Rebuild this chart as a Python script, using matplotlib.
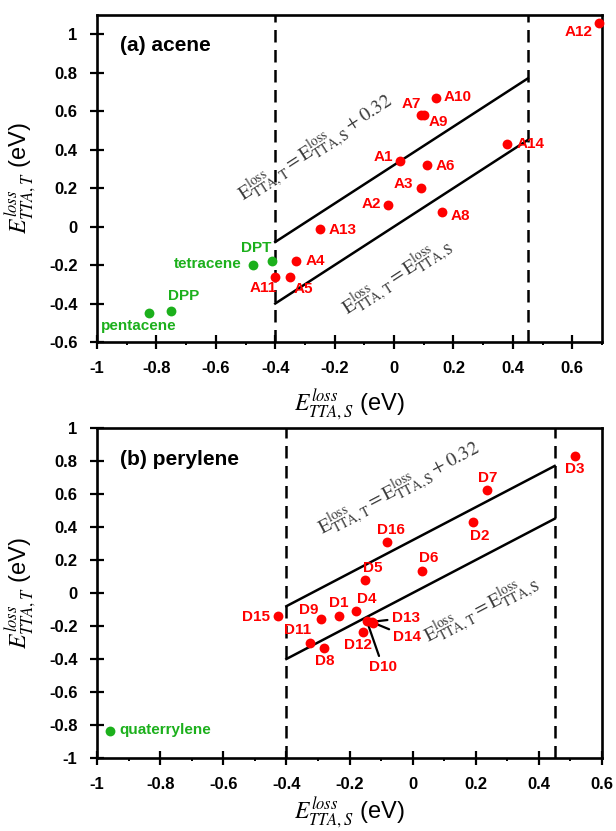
import numpy as np
import matplotlib
matplotlib.use('Agg')
import matplotlib.pyplot as plt
from matplotlib.ticker import MultipleLocator

plt.rcParams['font.family'] = ['Liberation Sans Narrow', 'Liberation Sans', 'DejaVu Sans']
plt.rcParams['mathtext.fontset'] = 'stix'

RED = '#ff0000'
GREEN = '#1cb01c'

# (a) acene
acene_names = ['A1', 'A2', 'A3', 'A4', 'A5', 'A6', 'A7', 'A8', 'A9', 'A10', 'A11', 'A12', 'A13', 'A14']
acene_x = [0.02, -0.02, 0.09, -0.33, -0.35, 0.11, 0.09, 0.16, 0.10, 0.14, -0.40, 0.69, -0.25, 0.38]
acene_y = [0.34, 0.11, 0.20, -0.18, -0.26, 0.32, 0.58, 0.075, 0.58, 0.67, -0.26, 1.06, -0.01, 0.43]
acene_ref_names = ['pentacene', 'DPP', 'tetracene', 'DPT']
acene_ref_x = [-0.825, -0.75, -0.475, -0.41]
acene_ref_y = [-0.45, -0.44, -0.20, -0.18]

# (b) perylene
peryl_names = ['D1', 'D2', 'D3', 'D4', 'D5', 'D6', 'D7', 'D8', 'D9', 'D10', 'D11', 'D12', 'D13', 'D14', 'D15', 'D16']
peryl_x = [-0.233, 0.19, 0.515, -0.18, -0.15, 0.03, 0.235, -0.28, -0.29, -0.145, -0.325, -0.157, -0.13, -0.125, -0.425, -0.08]
peryl_y = [-0.14, 0.43, 0.83, -0.11, 0.08, 0.135, 0.625, -0.335, -0.16, -0.17, -0.30, -0.235, -0.175, -0.18, -0.14, 0.31]
peryl_ref_names = ['quaterrylene']
peryl_ref_x = [-0.96]
peryl_ref_y = [-0.835]

# window and guide lines
win_lo, win_hi = -0.4, 0.45
offset_eV = 0.32

# label offsets (pixels, y up)
acene_off = {'A1': (-17, 4), 'A2': (-17, 1), 'A3': (-17, 4), 'A4': (19, 0), 'A5': (13, -12),
             'A6': (19, -1), 'A7': (-9, 11), 'A8': (19, -4), 'A9': (15, -7), 'A10': (22, 1),
             'A11': (-12, -11), 'A12': (-20, -9), 'A13': (23, -1), 'A14': (24, 0)}
acene_ref_off = {'pentacene': (-10, -13), 'DPP': (12, 15), 'tetracene': (-45, 1), 'DPT': (-16, 13)}
peryl_off = {'D1': (0, 13), 'D2': (7, -14), 'D3': (0, -13), 'D4': (11, 12), 'D5': (7, 12),
             'D6': (7, 13), 'D7': (1, 12), 'D8': (0, -13), 'D9': (-12, 9), 'D11': (-12, 13),
             'D12': (-5, -13), 'D15': (-22, -1), 'D16': (4, 12)}
peryl_arrow = {'D10': (16, -46), 'D13': (34, 4), 'D14': (34, -14)}

PT = 0.72  # px -> pt at dpi 100

fig = plt.figure(figsize=(6.16, 8.31), dpi=100)
ax1 = fig.add_axes([97/616, 1-342/831, 505/616, 327/831])
ax2 = fig.add_axes([97/616, 1-758/831, 505/616, 330/831])

lab_font = dict(family='Liberation Sans', fontweight='bold', fontsize=11)
eq_upper = r'$\mathrm{E^{loss}_{TTA,T} = E^{loss}_{TTA,S} + 0.32}$'
eq_lower = r'$\mathrm{E^{loss}_{TTA,T} = E^{loss}_{TTA,S}}$'
eq_style = dict(rotation=45, transform_rotates_text=True, ha='center', va='center',
                rotation_mode='anchor', fontsize=14, color='#3a3a3a')


def fmt(v, p):
    return '0' if abs(v) < 1e-9 else f'{v:g}'


def style(ax, xlim, ylim, xpad):
    ax.set_xlim(*xlim)
    ax.set_ylim(*ylim)
    ax.xaxis.set_major_locator(MultipleLocator(0.2))
    ax.xaxis.set_minor_locator(MultipleLocator(0.1))
    ax.yaxis.set_major_locator(MultipleLocator(0.2))
    ax.xaxis.set_major_formatter(plt.FuncFormatter(fmt))
    ax.yaxis.set_major_formatter(plt.FuncFormatter(fmt))
    ax.tick_params(axis='both', which='major', direction='inout', length=10, width=1.6,
                   labelsize=12, pad=9, labelfontfamily='Liberation Sans')
    ax.tick_params(axis='x', which='minor', direction='out', length=2.5, width=1.4)
    for s in ax.spines.values():
        s.set_linewidth(1.9)
    ax.set_xlabel(r'$E^{loss}_{TTA,S}$ (eV)', fontsize=17, labelpad=xpad)
    ax.set_ylabel(r'$E^{loss}_{TTA,T}$ (eV)', fontsize=17, labelpad=8)
    ax.axvline(win_lo, color='black', lw=1.8, ls=(0, (5, 3)))
    ax.axvline(win_hi, color='black', lw=1.8, ls=(0, (5, 3)))
    xs = np.array([win_lo, win_hi])
    ax.plot(xs, xs, color='black', lw=1.8)
    ax.plot(xs, xs + offset_eV, color='black', lw=1.8)


def points(ax, names, xs, ys, offs, color):
    ax.scatter(xs, ys, s=50, color=color, zorder=5, clip_on=False, linewidths=0)
    for n, x, y in zip(names, xs, ys):
        if n in offs:
            dx, dy = offs[n]
            ax.annotate(n, (x, y), xytext=(dx*PT, dy*PT), textcoords='offset points',
                        ha='center', va='center', color=color, **lab_font)


style(ax1, (-1, 0.7), (-0.6, 1.1), 8)
points(ax1, acene_names, acene_x, acene_y, acene_off, RED)
points(ax1, acene_ref_names, acene_ref_x, acene_ref_y, acene_ref_off, GREEN)
ax1.text(0.046, 0.908, '(a) acene', transform=ax1.transAxes, ha='left', va='center',
         family='Liberation Sans', fontweight='bold', fontsize=15)
ax1.text(-0.26, 0.405, eq_upper, **eq_style)
ax1.text(0.013, -0.266, eq_lower, **eq_style)

style(ax2, (-1, 0.6), (-1, 1), 2)
points(ax2, peryl_names, peryl_x, peryl_y, peryl_off, RED)
for n, x, y in zip(peryl_names, peryl_x, peryl_y):
    if n in peryl_arrow:
        dx, dy = peryl_arrow[n]
        ax2.annotate(n, (x, y), xytext=(dx*PT, dy*PT), textcoords='offset points',
                     ha='center', va='center', color=RED, **lab_font,
                     arrowprops=dict(arrowstyle='-', color='black', lw=1.6,
                                     shrinkA=1, shrinkB=0))
ax2.scatter(peryl_ref_x, peryl_ref_y, s=50, color=GREEN, zorder=5, linewidths=0)
for n, x, y in zip(peryl_ref_names, peryl_ref_x, peryl_ref_y):
    ax2.annotate(n, (x, y), xytext=(10*PT, 1*PT), textcoords='offset points',
                 ha='left', va='center', color=GREEN, **lab_font)
ax2.text(0.046, 0.906, '(b) perylene', transform=ax2.transAxes, ha='left', va='center',
         family='Liberation Sans', fontweight='bold', fontsize=15)
ax2.text(-0.04, 0.63, eq_upper, **eq_style)
ax2.text(0.22, -0.10, eq_lower, **eq_style)

# bold tick labels (set after ticks exist)
fig.canvas.draw()
for ax in (ax1, ax2):
    for lab in ax.get_xticklabels() + ax.get_yticklabels():
        lab.set_fontweight('bold')

fig.savefig('out.png', dpi=100)
